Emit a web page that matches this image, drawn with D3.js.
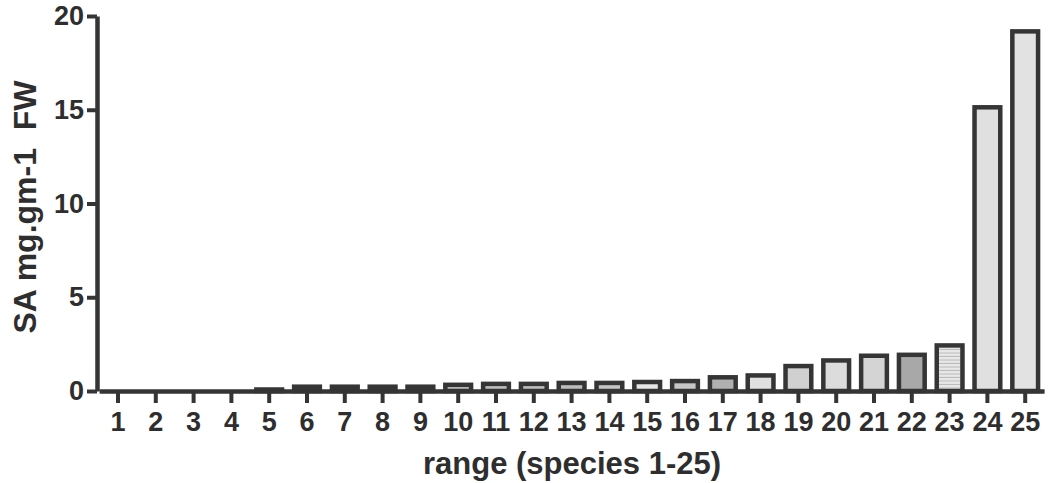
<!DOCTYPE html>
<html>
<head>
<meta charset="utf-8">
<script src="https://cdn.jsdelivr.net/npm/d3@7.9.0/dist/d3.min.js"></script>
<style>
  body { margin: 0; background: #fff; }
  svg { display: block; }
  text { font-family: "Liberation Sans", Arial, sans-serif; font-weight: bold; fill: #2e2e2e; }
</style>
</head>
<body>
<svg id="chart" width="1052" height="483"></svg>
<script>
// data
const species = ["1","2","3","4","5","6","7","8","9","10","11","12","13","14","15","16","17","18","19","20","21","22","23","24","25"];
const saValues = [0, 0, 0, 0, 0.2, 0.35, 0.35, 0.35, 0.35, 0.45, 0.5, 0.5, 0.55, 0.55, 0.6, 0.65, 0.85, 0.95, 1.45, 1.75, 2.0, 2.05, 2.55, 15.25, 19.3];
const yTicks = [0, 5, 10, 15, 20];

// bar fills (style only)
const fills = ["#c8c8c8","#c8c8c8","#c8c8c8","#c8c8c8","#c8c8c8","#c0c0c0","#c0c0c0","#c0c0c0","#c0c0c0","#bdbdbd",
  "#bdbdbd","#bdbdbd","#bdbdbd","#c4c4c4","#e6e6e6","#c6c6c6","#b0b0b0","#e0e0e0","#d0d0d0","#dcdcdc",
  "#d4d4d4","#a8a8a8","url(#stripes)","#e0e0e0","#e2e2e2"];

const data = species.map((s, i) => ({ name: s, value: saValues[i], fill: fills[i] }));

const svg = d3.select("#chart");
const ink = "#353535";
const sw = 4.5;

const defs = svg.append("defs");
const pat = defs.append("pattern")
  .attr("id", "stripes")
  .attr("patternUnits", "userSpaceOnUse")
  .attr("width", 6).attr("height", 3.5);
pat.append("rect").attr("width", 6).attr("height", 3.5).attr("fill", "#e8e8e8");
pat.append("rect").attr("y", 2.5).attr("width", 6).attr("height", 1).attr("fill", "#b8b8b8");

const x = d3.scaleBand()
  .domain(species)
  .range([99.1, 1044.1])
  .paddingInner(0.2)
  .paddingOuter(0.1);

const y = d3.scaleLinear()
  .domain([0, 20])
  .range([391, 16]);

// bars
svg.append("g")
  .selectAll("rect")
  .data(data.filter(d => d.value > 0))
  .join("rect")
  .attr("x", d => x(d.name) + sw / 2)
  .attr("width", x.bandwidth() - sw)
  .attr("y", d => y(d.value) + sw / 2)
  .attr("height", d => Math.max(0, y(0) - y(d.value) - sw / 2))
  .attr("fill", d => d.fill)
  .attr("stroke", ink)
  .attr("stroke-width", sw);

// x axis
const xAxis = svg.append("g")
  .attr("transform", `translate(0,${y(0)})`)
  .call(d3.axisBottom(x).tickSize(12).tickSizeOuter(0).tickPadding(9));
xAxis.select(".domain").attr("stroke", ink).attr("stroke-width", sw);
xAxis.selectAll(".tick line").attr("stroke", ink).attr("stroke-width", 4);
xAxis.selectAll(".tick text")
  .attr("font-size", 27)
  .attr("font-family", "Liberation Sans, Arial, sans-serif")
  .attr("fill", "#2e2e2e");

// y axis
const yAxis = svg.append("g")
  .attr("transform", "translate(97,0)")
  .call(d3.axisLeft(y).tickValues(yTicks).tickSize(10).tickSizeOuter(0).tickPadding(3));
yAxis.select(".domain").attr("stroke", ink).attr("stroke-width", sw);
yAxis.selectAll(".tick line").attr("stroke", ink).attr("stroke-width", 4);
yAxis.selectAll(".tick text")
  .attr("font-size", 27)
  .attr("font-family", "Liberation Sans, Arial, sans-serif")
  .attr("fill", "#2e2e2e");

// axis titles
svg.append("text")
  .attr("x", 572)
  .attr("y", 474)
  .attr("text-anchor", "middle")
  .attr("font-size", 31)
  .text("range (species 1-25)");

svg.append("text")
  .attr("transform", "translate(36,207) rotate(-90)")
  .attr("text-anchor", "middle")
  .attr("font-size", 32)
  .style("white-space", "pre")
  .text("SA mg.gm-1  FW");
</script>
</body>
</html>
